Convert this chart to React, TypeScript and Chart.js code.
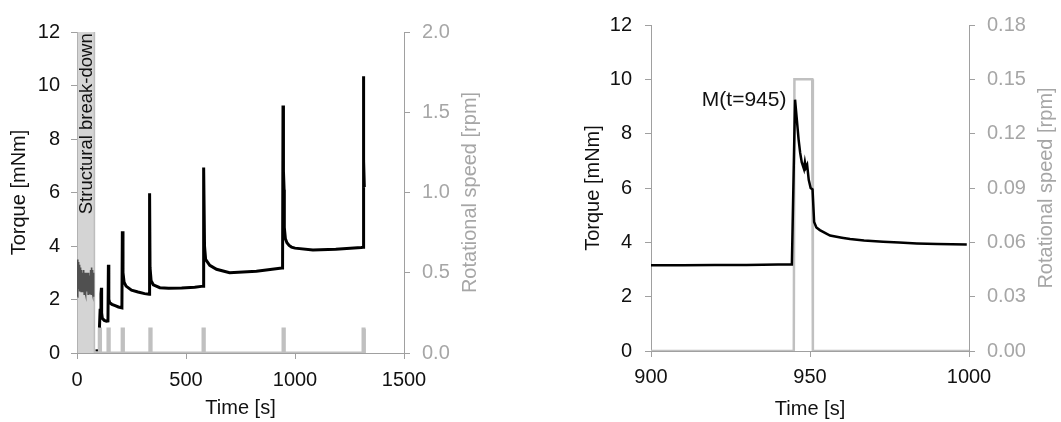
import React, { useEffect, useRef } from 'react';
import { Chart, registerables } from 'chart.js';

Chart.register(...registerables);

const FONT_FAMILY = '"Liberation Sans", Arial, Helvetica, sans-serif';
const TEXT_COLOR = '#111111';
const AXIS_COLOR = '#a0a0a0';
const SPEED_COLOR = '#c0c0c0';
const SPEED_TEXT = '#a6a6a6';
const BAND_COLOR = '#d4d4d4';

// ---------- Left panel: full test ----------
const overviewTimeTicks = [0, 500, 1000, 1500];
const torqueTicks = [0, 2, 4, 6, 8, 10, 12];
const overviewSpeedTicks = [0, 0.5, 1.0, 1.5, 2.0];

const breakdownStart = 3;
const breakdownEnd = 80;
const breakdownLabel = 'Structural break-down';
const breakdownLabelTime = 47;
const breakdownLabelTorque = 8.57;

const breakdownTime = [2, 3, 4, 5, 6, 7, 8, 9, 10, 11, 12, 13, 14, 15, 16, 17, 18, 19, 20, 21, 22, 23, 24, 25, 26, 27, 28, 29, 30, 31, 32, 33, 34, 35, 36, 37, 38, 39, 40, 41, 42, 43, 44, 45, 46, 47, 48, 49, 50, 51, 52, 53, 54, 55, 56, 57, 58, 59, 60, 61, 62, 63, 64, 65, 66, 67, 68, 69, 70, 71, 72, 73, 74, 75, 76, 77];
const breakdownTorque = [2.1, 3.5, 3.3, 2.6, 3.4, 2.5, 3.2, 2.4, 3.3, 2.6, 3.1, 2.3, 3.2, 2.5, 3.0, 2.4, 3.1, 2.3, 2.9, 2.5, 3.1, 2.3, 3.0, 2.6, 2.9, 2.3, 3.0, 2.4, 2.8, 2.5, 3.1, 2.2, 2.9, 2.6, 3.0, 2.3, 2.8, 2.5, 3.0, 2.2, 2.9, 2.6, 2.8, 2.3, 3.0, 2.4, 2.9, 2.6, 2.7, 2.2, 2.9, 2.5, 3.0, 2.3, 2.8, 2.5, 2.9, 2.2, 2.7, 2.4, 3.1, 2.3, 2.9, 2.2, 3.0, 2.5, 3.2, 2.3, 3.1, 2.4, 2.9, 2.2, 3.0, 2.1, 2.8, 2.3];

const dashTime = [85, 96];
const dashTorque = [0.1, 0.1];

const overviewTime = [103, 106, 110, 112, 113, 116, 125, 135, 142, 144, 146, 150, 160, 175, 190, 206, 208, 211, 216, 225, 250, 280, 310, 331, 333, 335, 340, 350, 380, 420, 480, 540, 579, 581, 585, 590, 609, 640, 700, 823, 940, 943, 945, 947, 950, 951, 956, 963, 973, 984, 1000, 1082, 1187, 1304, 1312, 1313, 1315, 1316, 1318];
const overviewTorque = [0.95, 1.6, 2.2, 2.44, 1.5, 1.3, 1.22, 1.19, 1.2, 3.3, 2.0, 1.88, 1.82, 1.77, 1.72, 1.69, 4.55, 3.0, 2.65, 2.5, 2.35, 2.28, 2.22, 2.2, 5.97, 3.2, 2.7, 2.55, 2.44, 2.42, 2.43, 2.46, 2.5, 6.93, 4.0, 3.5, 3.28, 3.13, 3.0, 3.06, 3.18, 3.18, 9.25, 6.8, 6.1, 4.7, 4.27, 4.12, 4.02, 3.96, 3.92, 3.85, 3.88, 3.94, 3.95, 10.35, 8.5, 7.2, 6.2];

const overviewSpeedTime = [80, 102, 102, 108, 108, 142, 142, 148, 148, 207, 207, 213, 213, 334, 334, 340, 340, 578, 578, 584, 584, 945, 945, 951, 951, 1312, 1312, 1317, 1317, 1320];
const overviewSpeed = [0, 0, 0.15, 0.15, 0, 0, 0.15, 0.15, 0, 0, 0.15, 0.15, 0, 0, 0.15, 0.15, 0, 0, 0.15, 0.15, 0, 0, 0.15, 0.15, 0, 0, 0.15, 0.15, 0, 0];

// ---------- Right panel: detail around t = 945 s ----------
const detailTimeTicks = [900, 950, 1000];
const detailSpeedTicks = [0, 0.03, 0.06, 0.09, 0.12, 0.15, 0.18];

const detailTime = [900, 910, 920, 930, 940, 944.3, 945.3, 945.8, 946.4, 946.9, 947.4, 948.1, 948.4, 948.7, 949.1, 949.6, 950.2, 950.8, 951.3, 952.0, 953.1, 955.0, 956.3, 960.0, 962.6, 967.0, 973.0, 978.0, 983.6, 990.0, 999.3];
const detailTorque = [3.16, 3.16, 3.17, 3.17, 3.18, 3.18, 9.25, 8.6, 7.8, 7.3, 6.95, 6.7, 6.95, 6.75, 6.85, 6.3, 6.0, 5.95, 4.75, 4.55, 4.45, 4.33, 4.25, 4.17, 4.12, 4.07, 4.02, 3.99, 3.96, 3.94, 3.92];

const detailSpeedTime = [900, 944.9, 945.1, 950.7, 950.9, 1000];
const detailSpeed = [0, 0, 0.15, 0.15, 0, 0];

const peakLabel = 'M(t=945)';
const peakLabelTime = 942.6;
const peakLabelTorque = 9.25;

const speedTitle = 'Rotational speed [rpm]';

// ---------- helpers ----------
const pts = (xs: number[], ys: number[]) => xs.map((x, i) => ({ x, y: ys[i] }));

function axis(opts: {
  position: string;
  min: number;
  max: number;
  ticks: number[];
  fmt: (v: number) => string;
  tickColor: string;
  title: string | null;
  titleColor: string;
  titlePad: any;
  size: number;
  tickPad: number;
  horizontal?: boolean;
}) {
  return {
    type: 'linear',
    position: opts.position,
    min: opts.min,
    max: opts.max,
    afterBuildTicks: (scale: any) => {
      scale.ticks = opts.ticks.map((v) => ({ value: v }));
    },
    afterFit: (scale: any) => {
      if (opts.horizontal) scale.height = opts.size;
      else scale.width = opts.size;
    },
    ticks: {
      autoSkip: false,
      maxRotation: 0,
      minRotation: 0,
      padding: opts.tickPad,
      color: opts.tickColor,
      font: { family: FONT_FAMILY, size: 20 },
      callback: (v: any) => opts.fmt(Number(v)),
    },
    grid: {
      drawOnChartArea: false,
      drawTicks: true,
      tickLength: 6,
      color: AXIS_COLOR,
      lineWidth: 1,
    },
    border: { display: true, color: AXIS_COLOR, width: 1 },
    title: {
      display: opts.title !== null,
      text: opts.title || '',
      color: opts.titleColor,
      font: { family: FONT_FAMILY, size: 20 },
      padding: opts.titlePad,
    },
  };
}

// right-axis title drawn bottom-to-top (like the reference)
function speedTitlePlugin(offsetFromRight: number) {
  return {
    id: 'speedTitle',
    afterDraw(chart: any) {
      const { ctx, chartArea, width } = chart;
      const x = width - offsetFromRight;
      const y = (chartArea.top + chartArea.bottom) / 2;
      ctx.save();
      ctx.translate(x, y);
      ctx.rotate(-Math.PI / 2);
      ctx.fillStyle = SPEED_TEXT;
      ctx.font = `20px ${FONT_FAMILY}`;
      ctx.textAlign = 'center';
      ctx.textBaseline = 'middle';
      ctx.fillText(speedTitle, 0, 0);
      ctx.restore();
    },
  };
}

function leftConfig(): any {
  const bandPlugin = {
    id: 'breakdownBand',
    beforeDatasetsDraw(chart: any) {
      const { ctx, chartArea, scales } = chart;
      const x0 = scales.x.getPixelForValue(breakdownStart);
      const x1 = scales.x.getPixelForValue(breakdownEnd);
      ctx.save();
      ctx.fillStyle = BAND_COLOR;
      ctx.fillRect(x0, chartArea.top, x1 - x0, chartArea.bottom - chartArea.top);
      ctx.strokeStyle = '#bdbdbd';
      ctx.lineWidth = 1.5;
      ctx.beginPath();
      ctx.moveTo(x1, chartArea.top);
      ctx.lineTo(x1, chartArea.bottom);
      ctx.stroke();
      ctx.restore();
    },
    afterDatasetsDraw(chart: any) {
      const { ctx, scales } = chart;
      const x = scales.x.getPixelForValue(breakdownLabelTime);
      const y = scales.y.getPixelForValue(breakdownLabelTorque);
      ctx.save();
      ctx.translate(x, y);
      ctx.rotate(-Math.PI / 2);
      ctx.fillStyle = TEXT_COLOR;
      ctx.font = `18.5px ${FONT_FAMILY}`;
      ctx.textAlign = 'center';
      ctx.textBaseline = 'middle';
      ctx.fillText(breakdownLabel, 0, 0);
      ctx.restore();
    },
  };
  return {
    type: 'line',
    data: {
      datasets: [
        { label: 'Torque', data: pts(overviewTime, overviewTorque), borderColor: '#000', borderWidth: 3, yAxisID: 'y', pointRadius: 0, tension: 0 },
        { label: 'Torque (idle)', data: pts(dashTime, dashTorque), borderColor: '#000', borderWidth: 2, yAxisID: 'y', pointRadius: 0 },
        { label: 'Torque (break-down)', data: pts(breakdownTime, breakdownTorque), borderColor: '#505050', borderWidth: 1.6, yAxisID: 'y', pointRadius: 0 },
        { label: 'Rotational speed', data: pts(overviewSpeedTime, overviewSpeed), borderColor: SPEED_COLOR, borderWidth: 3, yAxisID: 'y1', pointRadius: 0 },
      ],
    },
    options: {
      animation: false,
      responsive: false,
      events: [],
      layout: { padding: { top: 32, left: 0, right: 0, bottom: 0 } },
      plugins: { legend: { display: false }, tooltip: { enabled: false } },
      scales: {
        x: axis({ position: 'bottom', min: 0, max: 1500, ticks: overviewTimeTicks, fmt: (v) => String(v), tickColor: TEXT_COLOR, title: 'Time [s]', titleColor: TEXT_COLOR, titlePad: { top: 0, bottom: 2 }, size: 69, tickPad: 9, horizontal: true }),
        y: axis({ position: 'left', min: 0, max: 12, ticks: torqueTicks, fmt: (v) => String(v), tickColor: TEXT_COLOR, title: 'Torque [mNm]', titleColor: TEXT_COLOR, titlePad: { top: 7.5, bottom: 0 }, size: 77, tickPad: 11 }),
        y1: axis({ position: 'right', min: 0, max: 2, ticks: overviewSpeedTicks, fmt: (v) => v.toFixed(1), tickColor: SPEED_TEXT, title: null, titleColor: SPEED_TEXT, titlePad: 0, size: 126, tickPad: 12 }),
      },
    },
    plugins: [bandPlugin, speedTitlePlugin(60)],
  };
}

function rightConfig(): any {
  const labelPlugin = {
    id: 'peakLabel',
    afterDatasetsDraw(chart: any) {
      const { ctx, scales } = chart;
      const x = scales.x.getPixelForValue(peakLabelTime);
      const y = scales.y.getPixelForValue(peakLabelTorque);
      ctx.save();
      ctx.fillStyle = TEXT_COLOR;
      ctx.font = `21px ${FONT_FAMILY}`;
      ctx.textAlign = 'right';
      ctx.textBaseline = 'middle';
      ctx.fillText(peakLabel, x, y);
      ctx.restore();
    },
  };
  return {
    type: 'line',
    data: {
      datasets: [
        { label: 'Torque', data: pts(detailTime, detailTorque), borderColor: '#000', borderWidth: 2.5, yAxisID: 'y', pointRadius: 0, tension: 0 },
        { label: 'Rotational speed', data: pts(detailSpeedTime, detailSpeed), borderColor: SPEED_COLOR, borderWidth: 2.5, yAxisID: 'y1', pointRadius: 0 },
      ],
    },
    options: {
      animation: false,
      responsive: false,
      events: [],
      layout: { padding: { top: 21, left: 0, right: 0, bottom: 0 } },
      plugins: { legend: { display: false }, tooltip: { enabled: false } },
      scales: {
        x: axis({ position: 'bottom', min: 900, max: 1000, ticks: detailTimeTicks, fmt: (v) => String(v), tickColor: TEXT_COLOR, title: 'Time [s]', titleColor: TEXT_COLOR, titlePad: { top: 0, bottom: 1 }, size: 71, tickPad: 8, horizontal: true }),
        y: axis({ position: 'left', min: 0, max: 12, ticks: torqueTicks, fmt: (v) => String(v), tickColor: TEXT_COLOR, title: 'Torque [mNm]', titleColor: TEXT_COLOR, titlePad: { top: 51, bottom: 0 }, size: 121, tickPad: 13 }),
        y1: axis({ position: 'right', min: 0, max: 0.18, ticks: detailSpeedTicks, fmt: (v) => v.toFixed(2), tickColor: SPEED_TEXT, title: null, titleColor: SPEED_TEXT, titlePad: 0, size: 92, tickPad: 12 }),
      },
    },
    plugins: [labelPlugin, speedTitlePlugin(14.3)],
  };
}

export default function App() {
  const leftRef = useRef<HTMLCanvasElement>(null);
  const rightRef = useRef<HTMLCanvasElement>(null);

  useEffect(() => {
    const charts: Chart[] = [];
    if (leftRef.current) charts.push(new Chart(leftRef.current, leftConfig()));
    if (rightRef.current) charts.push(new Chart(rightRef.current, rightConfig()));
    return () => charts.forEach((c) => c.destroy());
  }, []);

  return (
    <div style={{ position: 'absolute', left: 0, top: 0, width: 1061, height: 422, background: '#ffffff' }}>
      <canvas ref={leftRef} width={530} height={422} style={{ position: 'absolute', left: 0, top: 0, width: 530, height: 422 }} />
      <canvas ref={rightRef} width={531} height={422} style={{ position: 'absolute', left: 530, top: 0, width: 531, height: 422 }} />
    </div>
  );
}
